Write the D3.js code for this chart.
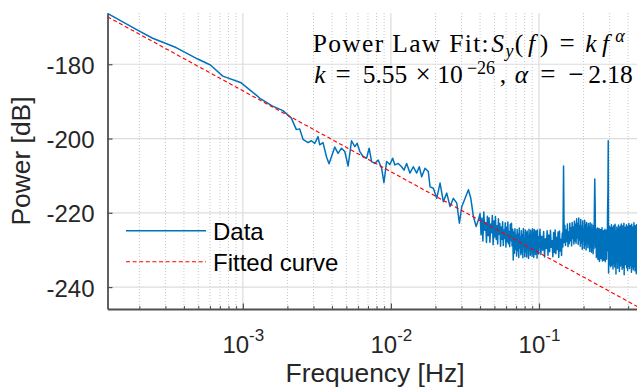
<!DOCTYPE html>
<html><head><meta charset="utf-8">
<script src="https://cdn.jsdelivr.net/npm/d3@7"></script>
<style>body{margin:0;background:#fff;overflow:hidden} svg{display:block}</style>
</head><body><svg id="c" width="637" height="391"></svg>
<script>
// ---- data ----
const lowFreq = [1.219e-4, 1.945e-4, 2.46e-4, 3.54e-4, 4.96e-4, 6.04e-4, 7.32e-4, 9.65e-4, 1.232e-3, 1.297e-3, 1.576e-3, 1.866e-3, 2.127e-3, 2.298e-3, 2.42e-3, 2.548e-3, 2.755e-3, 2.905e-3, 3.058e-3, 3.22e-3, 3.306e-3, 3.479e-3, 3.67e-3, 3.82e-3, 3.968e-3, 4.177e-3, 4.397e-3, 4.636e-3, 4.88e-3, 5.14e-3, 5.42e-3, 5.705e-3, 5.91e-3, 6.17e-3, 6.495e-3, 6.846e-3, 7.13e-3, 7.40e-3, 7.79e-3, 8.20e-3, 8.65e-3, 8.97e-3, 9.35e-3, 9.84e-3, 1.027e-2, 1.064e-2, 1.12e-2, 1.181e-2, 1.225e-2, 1.277e-2, 1.344e-2, 1.416e-2, 1.493e-2, 1.554e-2, 1.614e-2, 1.699e-2, 1.789e-2, 1.837e-2, 1.934e-2, 2.039e-2, 2.147e-2, 2.259e-2, 2.382e-2, 2.509e-2, 2.641e-2, 2.784e-2, 2.900e-2, 3.012e-2, 3.170e-2, 3.337e-2, 3.464e-2, 3.607e-2, 3.762e-2, 3.90e-2];
const lowPower = [-166.3, -170.8, -173.0, -175.5, -178.6, -180.2, -183.2, -184.9, -188.3, -189.1, -191.2, -192.5, -194.5, -197.6, -197.4, -200.2, -201.1, -200.6, -201.3, -199.5, -201.7, -201.1, -204.9, -206.8, -204.9, -202.3, -204.0, -202.6, -203.5, -207.4, -200.6, -202.2, -201.3, -203.5, -204.9, -205.3, -202.6, -206.2, -206.7, -205.8, -208.0, -211.9, -206.2, -207.0, -205.3, -207.1, -206.7, -207.6, -208.5, -206.7, -209.3, -207.6, -209.3, -207.6, -210.3, -208.0, -208.9, -213.0, -213.4, -216.1, -212.0, -217.0, -214.7, -218.3, -216.1, -217.4, -222.8, -218.3, -216.1, -213.8, -216.1, -221.0, -223.7, -221.9];
// 0.04–0.1 Hz: FFT bins, linearly spaced
const midStartHz = 0.040;
const midStepHz = 0.0006;
const midPower = [
-220.2,-225.9,-221.4,-227.6,-219.8,-224.7,-222.6,-228.0,-220.9,-226.2,
-221.3,-227.9,-223.0,-225.4,-220.7,-228.6,-222.2,-226.5,-221.0,-227.2,
-223.5,-228.4,-221.6,-225.8,-222.9,-229.0,-223.8,-227.1,-222.4,-228.8,
-224.6,-226.9,-222.7,-229.2,-223.9,-227.8,-222.5,-228.3,-225.0,-229.1,
-223.1,-227.5,-222.8,-228.9,-224.4,-232.7,-225.2,-230.9,-224.3,-229.8,
-226.0,-231.6,-224.5,-230.2,-225.7,-232.0,-224.1,-229.5,-226.6,-231.3,
-224.8,-230.7,-225.9,-232.1,-224.2,-229.1,-227.0,-231.8,-224.6,-230.4,
-225.4,-231.9,-224.9,-229.7,-226.3,-232.3,-224.4,-230.0,-225.8,-231.4,
-224.7,-229.3,-226.9,-231.7,-224.3,-230.8,-225.6,-232.0,-224.5,-229.9,
-226.2,-231.2,-224.8,-230.5,-225.1,-232.2,-224.6,-229.6,-226.4,-231.1];
// 0.1–0.5 Hz: FFT bins, linearly spaced
const highStartHz = 0.100;
const highStepHz = 0.0015;
const highPower = [
-229.8,-224.4,-231.2,-226.3,-230.1,-225.0,-231.9,-227.0,-229.6,-224.8,
-231.4,-226.0,-230.5,-224.7,-229.3,-227.5,-231.8,-225.3,-230.7,-224.6,
-231.0,-226.6,-229.9,-225.2,-232.0,-224.9,-230.3,-227.1,-231.5,-225.5,
-229.2,-207.4,-228.0,-223.4,-228.8,-224.6,-227.7,-223.0,-229.1,-225.2,
-228.3,-222.8,-227.5,-224.0,-228.9,-222.6,-226.9,-223.8,-228.4,-222.3,
-227.6,-223.1,-228.2,-221.6,-226.8,-222.9,-228.5,-221.4,-227.3,-223.5,
-229.0,-221.8,-228.1,-223.7,-229.8,-222.2,-227.4,-224.5,-229.6,-222.0,
-228.7,-223.3,-230.0,-222.6,-227.9,-224.2,-229.4,-222.9,-228.3,-223.9,
-230.4,-222.7,-229.1,-224.6,-230.6,-223.0,-228.5,-225.1,-231.0,-223.4,
-229.7,-219.5,-210.9,-217.8,-229.3,-224.3,-232.0,-225.0,-230.8,-224.1,
-232.6,-225.4,-230.1,-224.2,-233.1,-226.0,-231.2,-224.5,-232.4,-225.7,
-230.6,-224.0,-233.0,-226.2,-231.5,-224.8,-232.8,-225.3,-230.9,-224.4,
-233.2,-226.1,-231.4,-224.7,-232.5,-225.5,-230.2,-219.5,-214.6,-200.6,
-236.2,-226.4,-233.9,-223.6,-232.1,-225.8,-234.5,-224.0,-231.6,-223.2,
-234.2,-226.7,-232.8,-223.9,-235.1,-225.1,-231.9,-223.4,-233.7,-226.3,
-234.6,-223.1,-232.3,-224.9,-236.5,-225.6,-233.3,-223.8,-231.8,-224.3,
-234.9,-226.9,-232.6,-223.3,-233.5,-225.3,-235.8,-224.2,-232.0,-223.7,
-234.3,-225.9,-231.7,-223.0,-233.8,-226.5,-235.2,-224.6,-232.4,-223.5,
-234.7,-225.0,-233.1,-222.8,-236.7,-224.7,-232.2,-226.1,-234.0,-223.9,
-233.4,-225.7,-231.5,-223.2,-234.8,-224.4,-232.9,-226.3,-235.5,-223.6,
-233.0,-225.2,-234.4,-222.9,-232.5,-226.8,-235.0,-224.1,-233.6,-223.4,
-234.1,-225.5,-232.7,-224.8,-236.0,-223.1,-233.2,-226.0,-234.6,-224.3,
-232.3,-223.8,-235.3,-225.9,-233.9,-222.7,-234.5,-224.9,-232.1,-226.2,
-235.6,-223.5,-233.3,-225.4,-234.2,-224.0,-236.4,-223.2,-232.8,-225.8,
-234.0,-224.6,-233.5,-222.9,-235.4,-225.1,-232.6,-224.3,-234.8,-223.7,
-233.1,-226.4,-235.7,-224.2,-232.4,-223.0,-234.3,-225.6,-233.8,-224.5,
-235.2,-223.4,-232.9,-225.0,-234.6,-223.9,-233.6,-224.7];
const fitFreq = [1.219e-4, 0.5];
const fitPower = [-167.2, -246.0];
const xLimits = [1.219e-4, 0.5];
const yLimits = [-245.9, -166.2];
const yTicks = [-240, -220, -200, -180];
const xMajorTicks = [1e-3, 1e-2, 1e-1];
const xTickExponents = ["-3", "-2", "-1"];
const legendLabels = ["Data", "Fitted curve"];
const xLabel = "Frequency [Hz]";
const yLabel = "Power [dB]";
const fitK = "5.55", fitKExp = "\u221226", fitAlpha = "2.18";

// ---- layout ----
const L = 107.5, R = 642.5, T = 13, B = 309;
const svg = d3.select("#c");
const x = d3.scaleLog().domain(xLimits).range([L, R]);
const y = d3.scaleLinear().domain(yLimits).range([B, T]);

const minorTicks = [];
for (let e = -4; e <= -1; e++) for (let m = 2; m <= 9; m++) {
  const v = m * Math.pow(10, e);
  if (v >= xLimits[0] && v <= xLimits[1]) minorTicks.push(v);
}

// grid
const grid = svg.append("g");
grid.selectAll(".mg").data(minorTicks).enter().append("line")
  .attr("x1", d => x(d)).attr("x2", d => x(d)).attr("y1", T).attr("y2", B)
  .attr("stroke", "#b8b8b8").attr("stroke-width", 0.8).attr("stroke-dasharray", "1,2");
grid.selectAll(".Mg").data(xMajorTicks).enter().append("line")
  .attr("x1", d => x(d)).attr("x2", d => x(d)).attr("y1", T).attr("y2", B)
  .attr("stroke", "#dcdcdc").attr("stroke-width", 1.2);
grid.selectAll(".yg").data(yTicks).enter().append("line")
  .attr("x1", L).attr("x2", R).attr("y1", d => y(d)).attr("y2", d => y(d))
  .attr("stroke", "#dcdcdc").attr("stroke-width", 1.2);

// clip
svg.append("clipPath").attr("id", "clip").append("rect")
  .attr("x", L).attr("y", T - 1).attr("width", R - L).attr("height", B - T + 1);

const dataPts = lowFreq.map((f, i) => [f, lowPower[i]])
  .concat(midPower.map((p, i) => [midStartHz + midStepHz * i, p]))
  .concat(highPower.map((p, i) => [highStartHz + highStepHz * i, p]));
const line = d3.line().x(d => x(d[0])).y(d => y(d[1]));
const plot = svg.append("g").attr("clip-path", "url(#clip)");
plot.append("path").attr("d", line(dataPts)).attr("fill", "none")
  .attr("stroke", "#0072BD").attr("stroke-width", 1.5).attr("stroke-linejoin", "round");
plot.append("path").attr("d", line(fitFreq.map((f, i) => [f, fitPower[i]]))).attr("fill", "none")
  .attr("stroke", "#FF0000").attr("stroke-width", 1.15).attr("stroke-dasharray", "4,2.6");

// axes
const axCol = "#505050", txtCol = "#262626";
const gy = svg.append("g").attr("transform", `translate(${L},0)`)
  .call(d3.axisLeft(y).tickValues(yTicks).tickSize(-5).tickSizeOuter(0).tickPadding(13).tickFormat(d => String(d)));
gy.select(".domain").attr("stroke", axCol).attr("stroke-width", 1.8);
gy.selectAll(".tick line").attr("stroke", axCol).attr("stroke-width", 1.2);
gy.selectAll(".tick text").attr("font-family", "Liberation Sans, Arial, sans-serif")
  .attr("font-size", 24).attr("fill", txtCol).attr("dy", "0.38em");

const gxm = svg.append("g").attr("transform", `translate(0,${B})`)
  .call(d3.axisBottom(x).tickValues(minorTicks).tickSize(-3).tickSizeOuter(0).tickFormat(""));
gxm.select(".domain").remove();
gxm.selectAll(".tick line").attr("stroke", axCol).attr("stroke-width", 1);
const gx = svg.append("g").attr("transform", `translate(0,${B})`)
  .call(d3.axisBottom(x).tickValues(xMajorTicks).tickSize(-5.5).tickSizeOuter(0).tickPadding(0).tickFormat(""));
gx.select(".domain").attr("stroke", axCol).attr("stroke-width", 1.8);
gx.selectAll(".tick line").attr("stroke", axCol).attr("stroke-width", 1.2);
gx.selectAll(".tick").each(function (d, i) {
  const t = d3.select(this).append("text").attr("y", 44).attr("fill", txtCol)
    .attr("font-family", "Liberation Sans, Arial, sans-serif").attr("font-size", 24)
    .attr("text-anchor", "middle");
  t.append("tspan").text("10");
  t.append("tspan").attr("font-size", 17).attr("dy", -12).text(xTickExponents[i]);
});

// axis labels
svg.append("text").attr("x", (L + R) / 2).attr("y", 382).attr("text-anchor", "middle")
  .attr("font-family", "Liberation Sans, Arial, sans-serif").attr("font-size", 26.4).attr("fill", txtCol)
  .text(xLabel);
svg.append("text").attr("transform", `translate(30,${(T + B) / 2}) rotate(-90)`).attr("text-anchor", "middle")
  .attr("font-family", "Liberation Sans, Arial, sans-serif").attr("font-size", 26.4).attr("fill", txtCol)
  .text(yLabel);

// legend
const lg = svg.append("g");
const legY = [230.7, 261.7];
lg.append("line").attr("x1", 126).attr("x2", 206).attr("y1", legY[0]).attr("y2", legY[0])
  .attr("stroke", "#0072BD").attr("stroke-width", 1.5);
lg.append("line").attr("x1", 126).attr("x2", 206).attr("y1", legY[1]).attr("y2", legY[1])
  .attr("stroke", "#FF0000").attr("stroke-width", 1.15).attr("stroke-dasharray", "4,2.6");
legendLabels.forEach((s, i) => {
  lg.append("text").attr("x", 213).attr("y", legY[i] + 9.3)
    .attr("font-family", "Liberation Sans, Arial, sans-serif").attr("font-size", 24).attr("fill", "#000")
    .text(s);
});

// annotation (LaTeX-like: each glyph centred in its Computer Modern box)
const serif = "Liberation Serif, Times New Roman, serif";
const ann = svg.append("g").attr("font-family", serif).attr("fill", "#000");
function box(x0, x1, py, s, opt = {}) {
  const t = ann.append("text").attr("x", (x0 + x1) / 2).attr("y", py)
    .attr("font-size", opt.fs || 25.5).attr("text-anchor", "middle").text(s);
  if (opt.i) t.attr("font-style", "italic");
  if (opt.w) t.attr("textLength", opt.w).attr("lengthAdjust", "spacing");
  return t;
}
const b1 = 52.3, b2 = 83.3;
ann.append("text").attr("x", 312.7).attr("y", b1).attr("font-size", 25.5)
  .attr("textLength", 176).attr("lengthAdjust", "spacing").text("Power Law Fit:");
box(490, 505, b1, "S", {i: 1});
box(505, 514, b1 + 5, "y", {i: 1, fs: 18});
box(514, 524, b1, "(");
box(524, 539, b1, "f", {i: 1});
box(539, 549, b1, ")");
box(557, 577, b1, "=", {fs: 27});
box(584, 598, b1, "k", {i: 1});
box(598, 613, b1, "f", {i: 1});
box(614, 626, b1 - 10, "\u03B1", {i: 1, fs: 18});

box(313, 327, b2, "k", {i: 1});
box(333, 353, b2, "=", {fs: 27});
box(361.5, 408.5, b2, fitK);
box(413, 433, b2, "\u00D7", {fs: 27});
box(437, 463, b2, "10");
box(464, 498, b2 - 9, fitKExp, {fs: 18});
box(499, 507, b2, ",");
box(513, 530, b2, "\u03B1", {i: 1});
box(537.5, 558, b2, "=", {fs: 27});
box(565.5, 586, b2, "\u2212", {fs: 27});
box(587, 634, b2, fitAlpha);
</script></body></html>
